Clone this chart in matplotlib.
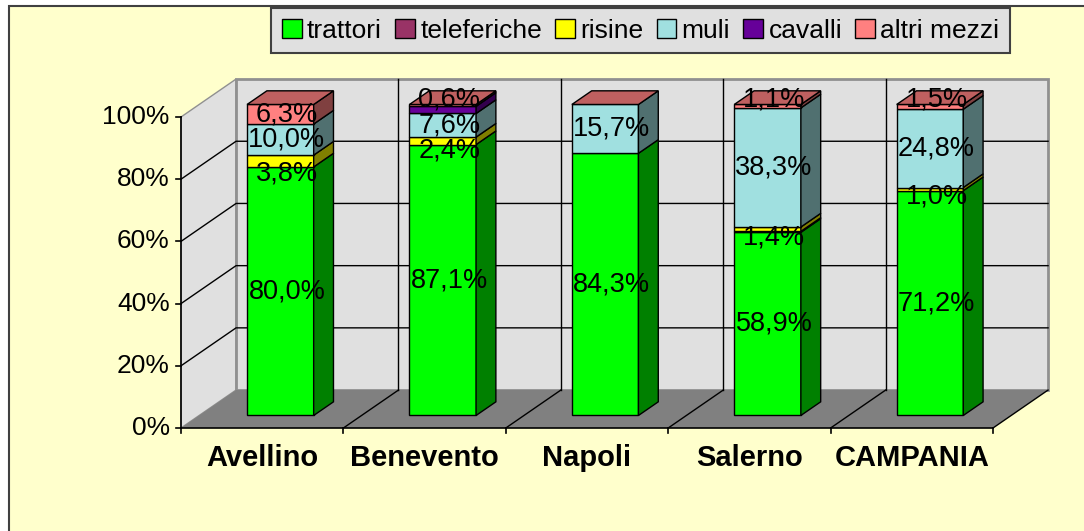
import matplotlib
matplotlib.use("Agg")
import matplotlib.pyplot as plt
from matplotlib.patches import Polygon, Rectangle, Patch
from matplotlib.colors import to_rgb

plt.rcParams["font.family"] = ["Liberation Sans", "DejaVu Sans"]

# =========================
# Data (percent of transport means per province)
# =========================
categories  = ["Avellino", "Benevento", "Napoli", "Salerno", "CAMPANIA"]
series      = ["trattori", "teleferiche", "risine", "muli", "cavalli", "altri mezzi"]
trattori    = [80.0, 87.1, 84.3, 58.9, 71.2]
teleferiche = [0.0, 0.0, 0.0, 0.3, 0.0]
risine      = [3.8, 2.4, 0.0, 1.4, 1.0]
muli        = [10.0, 7.6, 15.7, 38.3, 24.8]
cavalli     = [0.0, 2.3, 0.0, 0.0, 0.0]
altri_mezzi = [6.3, 0.6, 0.0, 1.1, 1.5]
y_ticks     = [0, 20, 40, 60, 80, 100]

values  = [trattori, teleferiche, risine, muli, cavalli, altri_mezzi]
colors  = ["#00FF00", "#993366", "#FFFF00", "#A0E0E0", "#660099", "#FF8080"]
labeled = [True, False, True, True, False, True]

# 3D look: depth offset of the whole floor, in data units
DX, DY = 0.339, 12.2
BAR_W = 0.41
D0, D1 = 0.33, 0.69   # bar front/back as fraction of depth


def shade(c, f):
    return tuple(v * f for v in to_rgb(c))


fig = plt.figure(figsize=(10.84, 5.31), dpi=100, facecolor="white")
fig.patches.append(Rectangle((9 / 1084, -0.01), 1.1, 1 - 6 / 531 + 0.01,
                             transform=fig.transFigure, facecolor="#FFFFCC",
                             edgecolor="#404040", linewidth=1.5, zorder=-5))
ax = fig.add_axes([0, 0, 1, 1])
ax.set_xlim(-181 / 162.4, (1084 - 181) / 162.4)
ax.set_ylim((428 - 531) / 3.11, 428 / 3.11)
ax.axis("off")
ax.patch.set_alpha(0)

n = len(categories)
wall = "#E0E0E0"

# walls and floor
ax.add_patch(Polygon([(0, 0), (DX, DY), (DX, 100 + DY), (0, 100)],
                     facecolor=wall, edgecolor="#909090", lw=1, zorder=1))
ax.add_patch(Rectangle((DX, DY), n, 100, facecolor=wall,
                       edgecolor="#909090", lw=2, zorder=1))
ax.add_patch(Polygon([(0, 0), (n, 0), (n + DX, DY), (DX, DY)],
                     facecolor="#808080", edgecolor="none", zorder=1))

# value gridlines on side and back wall
for t in y_ticks[1:-1]:
    ax.plot([0, DX, n + DX], [t, t + DY, t + DY], color="black", lw=1, zorder=2)
# category gridlines on back wall and floor
for k in range(1, n + 1):
    if k < n:
        ax.plot([k + DX, k + DX], [DY, 100 + DY], color="black", lw=1, zorder=2)
    ax.plot([k, k + DX], [0, DY], color="black", lw=1, zorder=2)

# axes lines and ticks
ax.plot([0, 0], [0, 100], color="black", lw=1.2, zorder=3)
ax.plot([0, n], [0, 0], color="black", lw=1.2, zorder=3)
for t in y_ticks:
    ax.plot([-0.03, 0], [t, t], color="black", lw=1.2, zorder=3)
    ax.text(-0.07, t, f"{t}%", ha="right", va="center", fontsize=19, zorder=3)
for k in range(n + 1):
    ax.plot([k, k], [0, -1.6], color="black", lw=1.2, zorder=3)
for i, cat in enumerate(categories):
    ax.text(i + 0.5, -9.6, cat, ha="center", va="center", fontsize=21,
            fontweight="bold", zorder=3)

# bars
bdx, bdy = (D1 - D0) * DX, (D1 - D0) * DY
for i in range(n):
    total = sum(v[i] for v in values)
    x0 = i + 0.5 - BAR_W / 2 + D0 * DX
    x1 = x0 + BAR_W
    yb = D0 * DY
    bottom = 0.0
    for s, vals in enumerate(values):
        h = vals[i] / total * 100
        if h <= 0:
            continue
        y0, y1 = yb + bottom, yb + bottom + h
        ax.add_patch(Rectangle((x0, y0), BAR_W, h, facecolor=colors[s],
                               edgecolor="black", lw=1, zorder=4))
        ax.add_patch(Polygon([(x1, y0), (x1 + bdx, y0 + bdy),
                              (x1 + bdx, y1 + bdy), (x1, y1)],
                             facecolor=shade(colors[s], 0.5),
                             edgecolor="black", lw=1, zorder=4))
        if labeled[s]:
            txt = f"{vals[i]:.1f}".replace(".", ",") + "%"
            # thin slices: label pushed to an edge, like the original
            if series[s] == "risine":
                ly = y0 - 2
            elif h < 2:
                ly = y1 + 1.5
            else:
                ly = (y0 + y1) / 2
            ax.text((x0 + x1) / 2 + 0.04, ly, txt, ha="center",
                    va="center", fontsize=19.5, zorder=6)
        bottom += h
    ytop = yb + bottom
    ax.add_patch(Polygon([(x0, ytop), (x1, ytop), (x1 + bdx, ytop + bdy),
                          (x0 + bdx, ytop + bdy)],
                         facecolor=shade(colors[-1], 0.75),
                         edgecolor="black", lw=1, zorder=4))

# legend
handles = [Patch(facecolor=c, edgecolor="black", label=s)
           for s, c in zip(series, colors)]
leg = fig.legend(handles=handles, loc="upper center", ncol=len(series),
                 bbox_to_anchor=(0.591, 0.985), fontsize=19, frameon=True,
                 fancybox=False, facecolor="#E0E0E0", edgecolor="#404040",
                 handlelength=0.75, handleheight=0.75, handletextpad=0.2,
                 columnspacing=0.5, borderpad=0.4, borderaxespad=0)
leg.get_frame().set_linewidth(1.5)
leg.get_frame().set_alpha(1)

fig.savefig("out.png", dpi=100, facecolor=fig.get_facecolor())
